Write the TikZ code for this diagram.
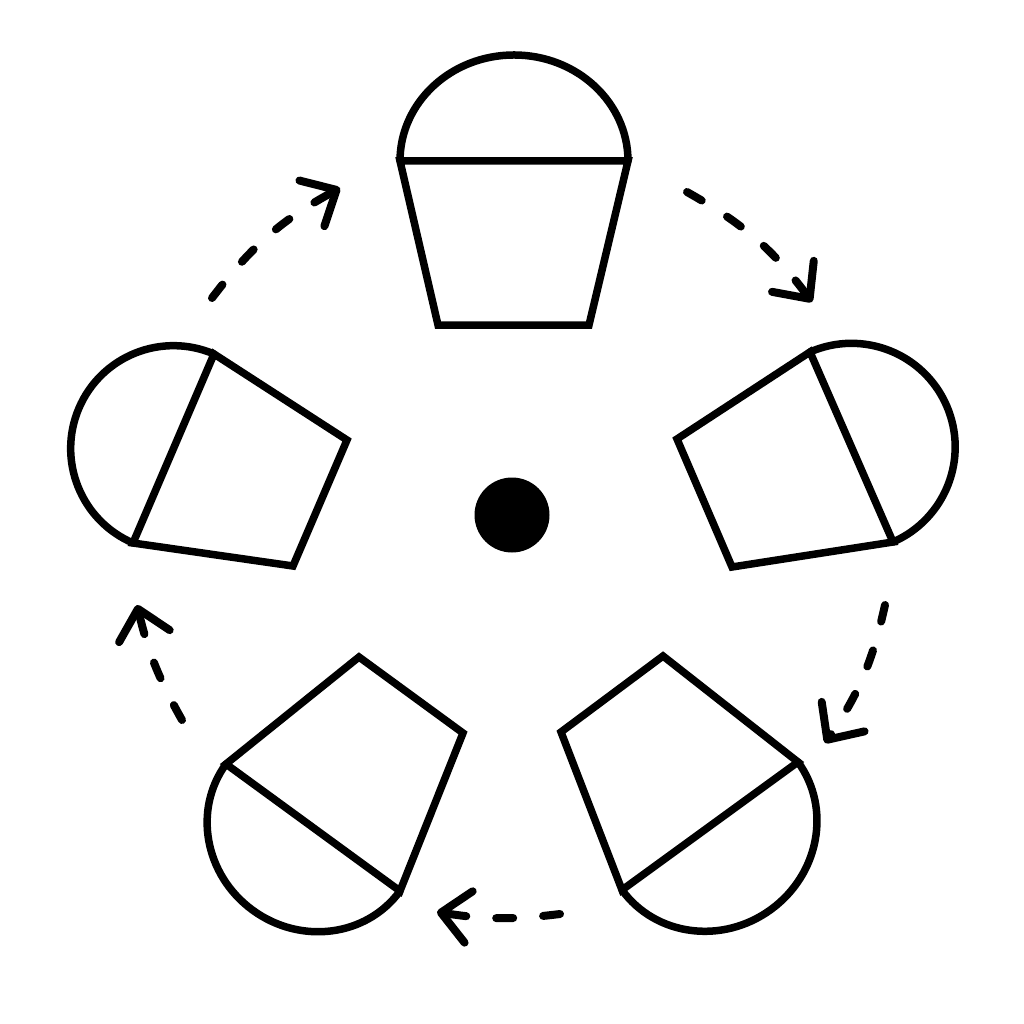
\documentclass[tikz,border=0pt]{standalone}
\usetikzlibrary{calc,arrows.meta}
\tikzset{
  cupline/.style={line width=7.5pt, line join=miter},
  cuparc/.style={line width=7.5pt, line cap=round, line join=round},
  cyclearrow/.style={line width=8pt, line cap=round, dash pattern=on 17pt off 30pt,
    -{Straight Barb[length=28pt,width=52pt,round]}, bend left=#1},
  hub/.style={circle, fill=black, minimum size=75pt, inner sep=0pt}
}
% #1 prefix, #2 wide corner P, #3 narrow corner next to P, #4 narrow corner next to Q, #5 wide corner Q, #6 bulge factor
\newcommand\drawcupshape[6]{%
  \coordinate (#1P) at #2;
  \coordinate (#1A) at #3;
  \coordinate (#1B) at #4;
  \coordinate (#1Q) at #5;
  \coordinate (#1M) at ($(#1P)!0.5!(#1Q)$);
  \coordinate (#1T) at ($(#1M)!{#6}!90:(#1Q)$);
  \coordinate (#1C1) at ($(#1P)!{0.5523*#6/2}!90:(#1Q)$);
  \coordinate (#1C2) at ($(#1T)+0.5523*(#1P)-0.5523*(#1M)$);
  \coordinate (#1C3) at ($(#1T)+0.5523*(#1Q)-0.5523*(#1M)$);
  \coordinate (#1C4) at ($(#1Q)!{0.5523*#6/2}!-90:(#1P)$);
  \draw[cupline] (#1P) -- (#1A) -- (#1B) -- (#1Q) -- cycle;
  \draw[cuparc] (#1P) .. controls (#1C1) and (#1C2) .. (#1T) .. controls (#1C3) and (#1C4) .. (#1Q);
}
\begin{document}
\begin{tikzpicture}[x=1pt,y=1pt]
\useasboundingbox (0,0) rectangle (1024,-1024);
\fill[white] (0,0) rectangle (1024,-1024);

% cups
\drawcupshape{top}{(400,-161)}{(438,-325)}{(589,-325)}{(628,-161)}{0.93}
\drawcupshape{rt}{(810,-352)}{(677,-439)}{(732,-567)}{(893,-542)}{1.0}
\drawcupshape{br}{(798,-762)}{(663,-656)}{(561,-732)}{(622,-890)}{0.95}
\drawcupshape{bl}{(400,-891)}{(463,-733)}{(359,-657)}{(226,-764)}{0.95}
\drawcupshape{lf}{(133,-543)}{(293,-566)}{(347,-440)}{(214,-354)}{1.0}

% centre
\node[hub] (hubdot) at (512,-515) {};

% arrow end points
\coordinate (s1) at (212,-298); \coordinate (e1) at (340,-188);
\coordinate (s2) at (687,-192); \coordinate (e2) at (812,-302);
\coordinate (s3) at (885,-605); \coordinate (e3) at (825,-743);
\coordinate (s4) at (560,-914); \coordinate (e4) at (437,-912);
\coordinate (s5) at (182,-720); \coordinate (e5) at (137,-605);

\draw[cyclearrow=12] (s1) to (e1);
\draw[cyclearrow=12] (s2) to (e2);
\draw[cyclearrow=11] (s3) to (e3);
\draw[cyclearrow=8] (s4) to (e4);
\draw[cyclearrow=8] (s5) to (e5);
\end{tikzpicture}
\end{document}
